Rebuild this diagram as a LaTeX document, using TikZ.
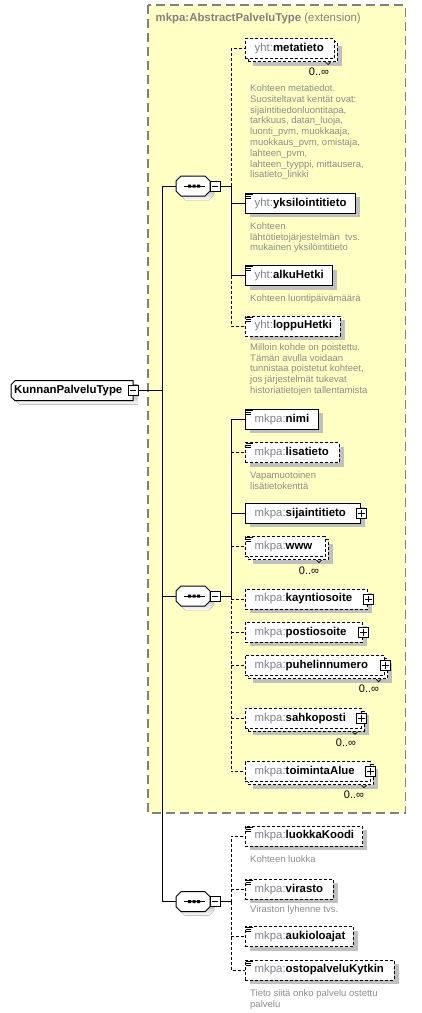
\documentclass[tikz,border=0pt]{standalone}
\usepackage{fontspec}
\setmainfont{Liberation Sans}
\usetikzlibrary{shadows}
\definecolor{bgyellow}{RGB}{255,255,196}
\definecolor{framegray}{RGB}{128,128,128}
\definecolor{shade}{RGB}{192,192,192}
\definecolor{pfx}{RGB}{128,128,140}
\definecolor{doc}{RGB}{140,140,140}
\tikzset{
  elbox/.style={draw=black, fill=white, line width=1pt, minimum height=20pt, inner sep=0pt, rectangle},
  sh/.style={general shadow={fill=shade, shadow xshift=4.5pt, shadow yshift=-4pt}},
  opt/.style={dash pattern=on 3pt off 2pt},
  lbl/.style={anchor=west, inner sep=0pt, font=\fontsize{11.4}{13}\selectfont},
  doctxt/.style={anchor=north west, inner sep=0pt, align=left, text=doc, font=\fontsize{9.5}{10.8}\selectfont},
  mult/.style={inner sep=0pt, font=\fontsize{11}{13}\selectfont},
  pm/.style={draw=black, fill=white, line width=0.8pt, minimum size=10pt, inner sep=0pt},
  conn/.style={line width=1pt},
  optconn/.style={line width=1pt, dash pattern=on 3pt off 2pt},
  sign/.style={line width=0.8pt}
}
\newcommand{\El}[6]{%
  \node[elbox,#6,minimum width={#5-245}] (#1) at ({(245+#5)/2},{#4+10}) {};
  \node[lbl] (#1-t) at (254.5,{#4+10}) {\textcolor{pfx}{#2:}\textbf{#3}};
}
\newcommand{\ElM}[5]{%
  \node[elbox,opt,sh,minimum width={#5-245}] (#1-b) at ({(245+#5)/2+3},{#4+13}) {};
  \node[elbox,opt,minimum width={#5-245}] (#1) at ({(245+#5)/2},{#4+10}) {};
  \node[lbl] (#1-t) at (254.5,{#4+10}) {\textcolor{pfx}{#2:}\textbf{#3}};
  \draw[line width=0.7pt] ([xshift=-12pt]#1-b.south east) -- ++(2.5,2.5) -- ++(2.5,-2.5);
}
\newcommand{\Ic}[1]{%
  \draw[line width=0.8pt] ([shift={(1.5pt,-1.5pt)}]#1.north west) -- ++(6.5,0)
    ([shift={(1.5pt,-3.5pt)}]#1.north west) -- ++(5,0)
    ([shift={(1.5pt,-5.5pt)}]#1.north west) -- ++(5,0);
}
\newcommand{\Pl}[1]{%
  \node[pm] (#1-p) at (#1.east) {};
  \draw[sign] ([xshift=2pt]#1-p.west) -- ([xshift=-2pt]#1-p.east)
    ([yshift=-2pt]#1-p.north) -- ([yshift=2pt]#1-p.south);
}
\newcommand{\Sq}[2]{%
  \fill[shade, shift={(4,4)}] (181,#2-10) -- (205,#2-10) -- (210,#2-5) -- (210,#2+5) -- (205,#2+10) -- (181,#2+10) -- (176,#2+5) -- (176,#2-5) -- cycle;
  \draw[fill=white,line width=1pt] (181,#2-10) -- (205,#2-10) -- (210,#2-5) -- (210,#2+5) -- (205,#2+10) -- (181,#2+10) -- (176,#2+5) -- (176,#2-5) -- cycle;
  \node[minimum width=34pt,minimum height=20pt,inner sep=0pt] (#1) at (193,#2) {};
  \draw[line width=1pt] (183.5,#2) -- (204.5,#2);
  \fill (188,#2-1.5) rectangle ++(3,3) (192.5,#2-1.5) rectangle ++(3,3) (197,#2-1.5) rectangle ++(3,3);
  \node[pm] (#1-m) at (215,#2) {};
  \draw[sign] ([xshift=2pt]#1-m.west) -- ([xshift=-2pt]#1-m.east);
}
\begin{document}
\begin{tikzpicture}[x=1pt,y=-1pt]
\fill[white] (0,0) rectangle (421,1013);
\useasboundingbox (0,0) rectangle (421,1013);
% extension frame
\draw[fill=bgyellow, draw=framegray, line width=1.3pt, dash pattern=on 9pt off 5pt] (148,5) rectangle (405.5,813);
\node[anchor=west, inner sep=0pt, font=\fontsize{11.4}{13}\selectfont, text=framegray] (title) at (155.5,19) {\textbf{mkpa:AbstractPalveluType} (extension)};
% root
\node[minimum width=122pt, minimum height=20pt, inner sep=0pt] (root) at (72,390.7) {};
\fill[shade, shift={(4.5,4)}] (15,380.7) -- (133,380.7) -- (133,400.7) -- (15,400.7) -- (11,396.7) -- (11,384.7) -- cycle;
\draw[fill=white, line width=1pt] (15,380.7) -- (133,380.7) -- (133,400.7) -- (15,400.7) -- (11,396.7) -- (11,384.7) -- cycle;
\node[lbl] (root-t) at (14,390.7) {\textbf{KunnanPalveluType}};
\node[pm] (root-m) at (133,390.7) {};
\draw[sign] ([xshift=2pt]root-m.west) -- ([xshift=-2pt]root-m.east);
% sequences
\Sq{s1}{186}
\Sq{s2}{596}
\Sq{s3}{901.7}
% group 1
\ElM{meta}{yht}{metatieto}{38.5}{334}
\node[mult] (meta-n) at (319,72) {0..∞};
\node[doctxt] (meta-d) at (250,84.5) {Kohteen metatiedot.\\Suositeltavat kentät ovat:\\sijaintitiedonluontitapa,\\tarkkuus, datan\_luoja,\\luonti\_pvm, muokkaaja,\\muokkaus\_pvm, omistaja,\\lahteen\_pvm,\\lahteen\_tyyppi, mittausera,\\lisatieto\_linkki};
\El{yks}{yht}{yksilointitieto}{193.3}{355.7}{sh}\Ic{yks}
\node[doctxt] (yks-d) at (250,222.2) {Kohteen\\lähtötietojärjestelmän~~tvs.\\mukainen yksilöintitieto};
\El{alku}{yht}{alkuHetki}{265.7}{332.3}{sh}\Ic{alku}
\node[doctxt] (alku-d) at (250,294.2) {Kohteen luontipäivämäärä};
\El{loppu}{yht}{loppuHetki}{316}{340}{sh,opt}\Ic{loppu}
\node[doctxt] (loppu-d) at (250,343.2) {Milloin kohde on poistettu.\\Tämän avulla voidaan\\tunnistaa poistetut kohteet,\\jos järjestelmät tukevat\\historiatietojen tallentamista};
% group 2
\El{nimi}{mkpa}{nimi}{409.3}{318.3}{sh}\Ic{nimi}
\El{lis}{mkpa}{lisatieto}{442.7}{339}{sh,opt}\Ic{lis}
\node[doctxt] (lis-d) at (250,471.5) {Vapamuotoinen\\lisätietokenttä};
\El{sij}{mkpa}{sijaintitieto}{503.3}{360.7}{sh}\Pl{sij}
\ElM{www}{mkpa}{www}{536.7}{325}\Ic{www}
\node[mult] (www-n) at (309,570.7) {0..∞};
\El{kay}{mkpa}{kayntiosoite}{589}{367.7}{sh,opt}\Pl{kay}
\El{post}{mkpa}{postiosoite}{622.3}{362.7}{sh,opt}\Pl{post}
\ElM{puh}{mkpa}{puhelinnumero}{655.7}{384.7}\Pl{puh}
\node[mult] (puh-n) at (369,689) {0..∞};
\ElM{sahk}{mkpa}{sahkoposti}{708.3}{361}\Pl{sahk}
\node[mult] (sahk-n) at (346,742.3) {0..∞};
\ElM{toim}{mkpa}{toimintaAlue}{761.7}{370}\Pl{toim}
\node[mult] (toim-n) at (354,795) {0..∞};
% group 3
\El{luok}{mkpa}{luokkaKoodi}{826}{362.7}{sh,opt}\Ic{luok}
\node[doctxt] (luok-d) at (250,855.8) {Kohteen luokka};
\El{vir}{mkpa}{virasto}{879.3}{333.3}{sh,opt}\Ic{vir}
\node[doctxt] (vir-d) at (250,905.8) {Viraston lyhenne tvs.};
\El{auk}{mkpa}{aukioloajat}{926.5}{353.3}{sh,opt}\Ic{auk}
\El{osto}{mkpa}{ostopalveluKytkin}{960}{394}{sh,opt}\Ic{osto}
\node[doctxt] (osto-d) at (250,989.2) {Tieto siitä onko palvelu ostettu\\palvelu};
% main connectors
\coordinate (m1) at (162,186);
\coordinate (m0) at (162,390.7);
\coordinate (m2) at (162,596);
\coordinate (m3) at (162,901.7);
\draw[conn] (root-m.east) -- (m0);
\draw[conn] (s1.west) -- (m1) -- (m3) -- (s3.west);
\draw[conn] (m2) -- (s2.west);
% group 1 connectors
\coordinate (g1) at (231,186);
\draw[conn] (s1-m.east) -- (g1);
\draw[optconn] (g1) |- (meta.west);
\draw[conn] (g1) |- (yks.west);
\draw[conn] (g1) |- (alku.west);
\draw[optconn] (g1 |- alku.west) |- (loppu.west);
% group 2 connectors
\coordinate (g2) at (231,596);
\draw[conn] (s2-m.east) -- (g2);
\draw[conn] (g2) |- (nimi.west);
\draw[conn] (g2) |- (sij.west);
\draw[optconn] (g2 |- lis.west) -- (lis.west);
\draw[optconn] (g2 |- www.west) -- (www.west);
\draw[optconn] (g2) |- (toim.west);
\draw[optconn] (g2 |- kay.west) -- (kay.west);
\draw[optconn] (g2 |- post.west) -- (post.west);
\draw[optconn] (g2 |- puh.west) -- (puh.west);
\draw[optconn] (g2 |- sahk.west) -- (sahk.west);
% group 3 connectors
\coordinate (g3) at (231,901.7);
\draw[conn] (s3-m.east) -- (g3);
\draw[optconn] (g3) |- (luok.west);
\draw[optconn] (g3) |- (osto.west);
\draw[optconn] (g3 |- vir.west) -- (vir.west);
\draw[optconn] (g3 |- auk.west) -- (auk.west);
\end{tikzpicture}
\end{document}
